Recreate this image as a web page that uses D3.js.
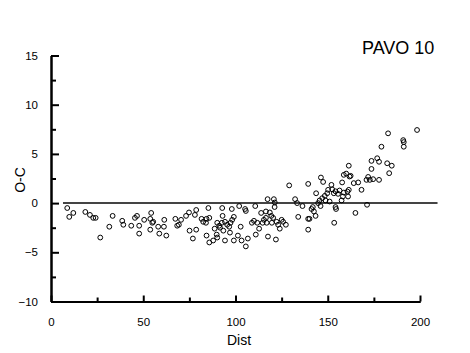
<!DOCTYPE html>
<html>
<head>
<meta charset="utf-8">
<script src="https://cdn.jsdelivr.net/npm/d3@7"></script>
<style>
  body { margin: 0; background: #fff; }
  svg { font-family: "Liberation Sans", Arial, sans-serif; }
</style>
</head>
<body>
<div id="chart"></div>
<script>
// data
var title = "PAVO 10"
var xLabel = "Dist"
var yLabel = "O-C"
var xTicks = [0, 50, 100, 150, 200]
var xMinor = [25, 75, 125, 175]
var yTicks = [-10, -5, 0, 5, 10, 15]
var yMinor = [-7.5, -2.5, 2.5, 7.5, 12.5]
var refLine = [6.5, 209.5]   // zero line extent (Dist)

var dist = [8.8, 9.9, 12.1, 18.6, 21.1, 22.9, 24.2, 26.7, 31.6, 33.4, 38.6, 39.2, 43.5, 45.5, 46.6, 47.8, 47.8,
  50.5, 53.8, 53.8, 54.3, 54.9, 55.4, 58.1, 58.7, 61.2, 61.4, 62.5, 67.4, 68.4, 69.3, 70.5, 73.2, 74.8, 75.1,
  76.9, 78, 78.7, 78.7, 81.6, 82.5, 84, 84.3, 85.8, 85.3, 84.3, 85.8, 87.9, 88.7, 90.1, 91.2, 89.8, 90.1, 91.6,
  92.8, 93, 92.6, 94.3, 93.4, 94.3, 95.5, 96.6, 97.3, 98.2, 99.1, 98, 97, 99.1, 101.3, 102, 102.8, 103.3,
  105.2, 105.6, 105.6, 106.7, 108.9, 110, 110.7, 111, 111.8, 112.8, 113.9, 114.7, 115.4, 116.5, 116.5, 116.9,
  117.4, 117.6, 118.6, 119.4, 119.7, 120.4, 120.8, 121.3, 121.2, 121.9, 122.3, 123.1, 124, 125, 125.8, 127.3,
  129.1, 132.3, 133.4, 134, 136.3, 139.4, 139.4, 139.4, 140.1, 141.2, 141.9, 142.5, 143.4, 143.7, 144.8, 145.6,
  146.3, 147.5, 146.1, 147, 148.4, 148.8, 149.7, 150.2, 151, 152, 152.4, 153.3, 154.2, 154.2, 154.5, 153.5,
  155.6, 156.4, 157.5, 158.2, 158.7, 157.8, 158.7, 160, 161.4, 161.8, 162.4, 160.7, 161.4, 161, 164.1, 166.5,
  165, 168.3, 171.3, 171, 171.9, 172.8, 174.6, 177.8, 173.7, 173.7, 176.8, 177.8, 179.1, 182.7, 182.2, 184.7,
  183.3, 190.9, 191.2, 191.2, 198.4]
var oc = [-0.5, -1.4, -1.0, -0.9, -1.2, -1.5, -1.5, -3.5, -2.4, -1.3, -1.8, -2.2, -2.3, -1.5, -1.3, -2.3, -3.1,
  -1.7, -1.6, -2.7, -1.0, -2.0, -1.9, -2.4, -3.1, -2.4, -1.7, -3.3, -1.6, -2.3, -2.2, -1.7, -1.3, -0.95, -2.8,
  -3.6, -1.2, -0.7, -2.7, -1.6, -1.9, -2.0, -1.6, -1.5, -0.5, -3.3, -4.0, -3.8, -2.6, -2.0, -2.3, -3.2, -3.5, -2.5,
  -0.5, -1.3, -2.0, -1.9, -2.8, -3.8, -2.2, -2.4, -2.0, -1.7, -1.4, -0.6, -3.0, -3.8, -3.3, -0.3, -2.4, -3.8,
  -0.6, -0.8, -4.4, -3.6, -2.0, -1.8, -0.3, -3.2, -2.0, -2.6, -1.0, -2.0, -1.7, -0.85, -1.5, -2.0,
  0.4, -3.4, -0.95, -1.3, -2.0, -1.5, 0.4, 0.06, -0.4, -3.7, -1.9, -2.2, -2.6, -1.7, -1.9, -2.2,
  1.8, 0.4, 0, -1.4, -0.3, 1.95, -1.6, -2.7, -1.6, -0.6, -0.4, -0.85, -1.3, 1.0, 0, 0.27,
  2.6, 2.15, -0.3, 0.5, 0.74, 0.27, 1.0, 1.35, 0.16, 1.85, 1.4, 1.0, 1.2, -0.4, -0.6, -2.0,
  0.94, 1.28, 0.27, 0.67, 1.07, 2.1, 2.87, 3.0, 3.8, 2.7, 2.77, 1.17, 1.35, 0.67, 2.03, 2.1,
  -1.0, 1.35, -0.17, 2.36, 2.66, 2.36, 2.43, 2.36, 3.47, 4.29, 4.56, 4.2, 5.73, 7.09, 4.05, 3.8,
  3.04, 6.4, 6.2, 5.73, 7.43]

var svgSize = { width: 470, height: 353 }
var plot = { left: 51, right: 420, top: 55.5, bottom: 301.5 }

var svg = d3.select("#chart").append("svg")
    .attr("width", svgSize.width)
    .attr("height", svgSize.height)

var xScale = d3.scaleLinear().domain([0, 200]).range([plot.left, plot.right])
var yScale = d3.scaleLinear().domain([-10, 15]).range([plot.bottom, plot.top])

// zero reference line
svg.append("line")
    .attr("x1", xScale(refLine[0])).attr("x2", xScale(refLine[1]))
    .attr("y1", yScale(0)).attr("y2", yScale(0))
    .attr("stroke", "#444").attr("stroke-width", 2)

// minor ticks
svg.append("g").attr("transform", `translate(0, ${plot.bottom})`)
    .call(d3.axisBottom(xScale).tickValues(xMinor).tickFormat("").tickSizeInner(-4).tickSizeOuter(0))
svg.append("g").attr("transform", `translate(${plot.left}, 0)`)
    .call(d3.axisLeft(yScale).tickValues(yMinor).tickFormat("").tickSizeInner(-5).tickSizeOuter(0))

// major ticks with labels
var xAxis = svg.append("g").attr("transform", `translate(0, ${plot.bottom})`)
    .call(d3.axisBottom(xScale).tickValues(xTicks).tickSizeInner(-6).tickSizeOuter(0).tickPadding(16))
var yAxis = svg.append("g").attr("transform", `translate(${plot.left}, 0)`)
    .call(d3.axisLeft(yScale).tickValues(yTicks).tickSizeInner(-8).tickSizeOuter(0).tickPadding(13))

svg.selectAll(".domain, .tick line").attr("stroke", "#000").attr("stroke-width", 2)
svg.selectAll(".tick text").attr("font-size", 11.5).attr("fill", "#000")
    .attr("font-family", "Liberation Sans, Arial, sans-serif")

// points
svg.append("g").selectAll("circle").data(dist)
    .enter().append("circle")
    .attr("cx", (d, i) => xScale(d))
    .attr("cy", (d, i) => yScale(oc[i]))
    .attr("r", 2.4)
    .attr("fill", "none")
    .attr("stroke", "#000")
    .attr("stroke-width", 1)

// labels
svg.append("text").attr("x", 239).attr("y", 345)
    .attr("text-anchor", "middle").attr("font-size", 14).text(xLabel)
svg.append("text").attr("transform", "translate(25, 180) rotate(-90)")
    .attr("text-anchor", "middle").attr("font-size", 14).text(yLabel)
svg.append("text").attr("x", 362).attr("y", 54)
    .attr("font-size", 18).text(title)
</script>
</body>
</html>
